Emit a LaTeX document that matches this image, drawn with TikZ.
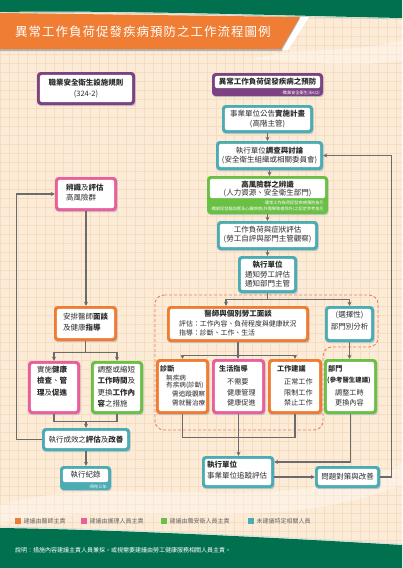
\documentclass[tikz,border=0pt]{standalone}
\usepackage{fontspec}
\setmainfont{Noto Sans CJK TC}
\newfontfamily\titlefont{Noto Sans CJK TC}[LetterSpace=8]
\usetikzlibrary{arrows.meta,fit,calc}
\definecolor{dkgreen}{HTML}{00704F}
\definecolor{bannerorange}{HTML}{EF7D33}
\definecolor{cpurple}{HTML}{7D4282}
\definecolor{cteal}{HTML}{4BACB3}
\definecolor{cgreen}{HTML}{6ABF45}
\definecolor{cpink}{HTML}{E85F9C}
\definecolor{corange}{HTML}{EE7D33}
\definecolor{bgpeach}{HTML}{FCEBD6}
\definecolor{gridc}{HTML}{F5DDC2}
\definecolor{linegray}{HTML}{6B6B6B}
\definecolor{dashc}{HTML}{E5806A}
\definecolor{txt}{HTML}{2B2B2B}
\newcommand\fs{\fontsize{7.5}{8}\selectfont}
\newcommand\fsm{\fontsize{6.9}{8}\selectfont}
\newcommand\fsd{\fontsize{6.6}{8}\selectfont}
\newcommand\fsl{\fontsize{7.1}{8}\selectfont}
\newcommand\fsx{\fontsize{4.2}{5}\selectfont}
\newcommand\bx[7][0]{%
  \fill[black!22, rounded corners=3.5pt] (#4+0.7,#5+1.2) rectangle (#6+0.7,#7+1.2);
  \fill[#3, rounded corners=3.5pt] (#4,#5) rectangle (#6,#7);
  \fill[white, rounded corners=2.5pt] (#4+2.8,#5+2.8) rectangle (#6-2.8,#7-2.8-#1);
  \node[fit={(#4,#5)(#6,#7)}, inner sep=0pt] (#2) {};
}
\begin{document}
\begin{tikzpicture}[x=1pt,y=-1pt,
  t/.style={inner sep=0pt, text=txt, font=\fs},
  tb/.style={inner sep=0pt, text=txt, font=\fs\bfseries},
  tm/.style={inner sep=0pt, text=txt, font=\fsm},
  ts/.style={inner sep=0pt, text=txt, font=\fsd},
  tl/.style={inner sep=0pt, text=txt, font=\fsl},
  tlb/.style={inner sep=0pt, text=txt, font=\fsl\bfseries},
  tsw/.style={inner sep=0pt, text=white, font=\fsx},
  leg/.style={inner sep=0pt, text=black!60, font=\fontsize{6}{7}\selectfont, anchor=west},
  conn/.style={draw=linegray, line width=1.1pt},
  arr/.style={draw=linegray, line width=1.1pt, -{Stealth[length=4pt,width=4pt]}},
]
\useasboundingbox (0,0) rectangle (402,568);
% background
\fill[bgpeach] (0,0) rectangle (402,568);
\foreach \i in {0,9,...,402} \draw[gridc, line width=0.3pt] (\i,0) -- (\i,568);
\foreach \j in {0,9,...,568} \draw[gridc, line width=0.3pt] (0,\j) -- (402,\j);
\fill[white, opacity=0.35] (0,505) .. controls (120,470) and (260,520) .. (402,465) -- (402,485) .. controls (260,540) and (120,495) .. (0,525) -- cycle;
\fill[white, opacity=0.3] (250,60) .. controls (300,45) and (350,55) .. (402,40) -- (402,60) .. controls (350,70) and (300,60) .. (250,60) -- cycle;
% top band
\fill[dkgreen] (0,0) -- (402,0) -- (402,18) .. controls (300,16) and (120,10) .. (0,12) -- cycle;
\draw[white!70!dkgreen, line width=0.8pt] (0,13) .. controls (120,11) and (300,17) .. (402,19);
\fill[black!30] (0,15) -- (301,19) -- (282,51) -- (0,51) -- cycle;
\fill[bannerorange] (0,13) -- (300,17) -- (281,49) -- (0,49) -- cycle;
\fill[white] (301,17) -- (309,17) -- (288,50) -- (282,50) -- cycle;
\node[anchor=west, inner sep=0pt, text=white, font=\titlefont\fontsize{12.5}{14}\selectfont] (title) at (15,32) {異常工作負荷促發疾病預防之工作流程圖例};
% bottom band
\fill[dkgreen] (0,528) .. controls (130,530) and (280,538) .. (402,545) -- (402,568) -- (0,568) -- cycle;
\draw[white!80!dkgreen, line width=0.9pt] (0,527) .. controls (130,529) and (280,537) .. (402,544);
\node[anchor=west, inner sep=0pt, text=white, font=\fontsize{6}{7}\selectfont] (foot) at (15,550) {說明：措施內容建議主責人員兼採，或視需要建議由勞工健康服務相關人員主責。};
% legend
\fill[corange] (15,518) rectangle (21,524); \node[leg] (lg1) at (23.5,521) {建議由醫師主責};
\fill[cpink] (81,518) rectangle (87,524); \node[leg] (lg2) at (89.5,521) {建議由護理人員主責};
\fill[cgreen] (161,518) rectangle (167,524); \node[leg] (lg3) at (169.5,521) {建議由職安衛人員主責};
\fill[cteal] (248,518) rectangle (254,524); \node[leg] (lg4) at (256.5,521) {未建議特定相關人員};
% dashed region
\draw[dashc, line width=0.9pt, dash pattern=on 3pt off 2pt, rounded corners=9pt] (155,295) -- (378,295) -- (378,347) -- (323,347) -- (323,430) -- (155,430) -- cycle;
% boxes
\bx{pl}{cpurple}{37}{72}{135}{105}
\node[tb] (pl1) at (86,83) {職業安全衛生設施規則};
\node[t] (pl2) at (86,94) {(324-2)};
\bx[5]{pr}{cpurple}{212}{73}{323}{96}
\node[tb] (pr1) at (267.5,82) {異常工作負荷促發疾病之預防};
\node[tsw, anchor=east] (pr2) at (320,92.8) {-職業安全衛生法6(2)};
\bx{b3}{cteal}{222}{105}{313}{133}
\node[t] (b3a) at (267.5,114) {事業單位公告\textbf{實施計畫}};
\node[t] (b3b) at (267.5,124) {(高階主管)};
\bx{b4}{cteal}{216}{141}{323}{170}
\node[t] (b4a) at (269.5,150.5) {執行單位\textbf{調查與討論}};
\node[t] (b4b) at (269.5,160.5) {(安全衛生組織或相關委員會)};
\bx[13]{b5}{cgreen}{207}{176}{328}{214}
\node[tb] (b5a) at (267.5,184.5) {高風險群之辨識};
\node[t] (b5b) at (267.5,193.5) {(人力資源、安全衛生部門)};
\node[tsw, anchor=east] (b5c) at (324,203) {-異常工作負荷促發疾病預防指引};
\node[tsw, anchor=east] (b5d) at (324,209.5) {-職業促發腦血管及心臟疾病(外傷導致者除外)之認定參考指引};
\bx{b6}{cteal}{217}{221}{318}{250}
\node[t] (b6a) at (267.5,230) {工作負荷與症狀評估};
\node[t] (b6b) at (267.5,239.5) {(勞工自評與部門主管觀察)};
\bx{b7}{cteal}{238}{256}{297}{293}
\node[tb] (b7a) at (267.5,265) {執行單位};
\node[t] (b7b) at (267.5,274.5) {通知勞工評估};
\node[t] (b7c) at (267.5,283.5) {通知部門主管};
\bx{b8}{corange}{167}{306}{309}{342}
\node[tb] (b8a) at (238,314) {醫師與個別勞工面談};
\node[tm, anchor=west] (b8b) at (179,323.5) {評估：工作內容、負荷程度與健康狀況};
\node[tm, anchor=west] (b8c) at (179,332.5) {指導：診斷、工作、生活};
\bx{b9}{cteal}{325}{306}{374}{342}
\node[t] (b9a) at (349.5,315.5) {(選擇性)};
\node[t] (b9b) at (349.5,327) {部門別分析};
\bx{b10}{corange}{156}{359}{209}{414}
\node[tlb, anchor=west] (b10a) at (160,369) {診斷};
\node[ts, anchor=west] (b10b) at (166,377.5) {無疾病};
\node[ts, anchor=west] (b10c) at (166,385.5) {有疾病(診斷)};
\node[ts, anchor=west] (b10d) at (172,394) {需追蹤觀察};
\node[ts, anchor=west] (b10e) at (172,403) {需就醫治療};
\bx{b11}{cpink}{212}{359}{265}{414}
\node[tlb, anchor=west] (b11a) at (219,369) {生活指導};
\node[tl, anchor=west] (b11b) at (227,382) {不需要};
\node[tl, anchor=west] (b11c) at (227,392.5) {健康管理};
\node[tl, anchor=west] (b11d) at (227,403) {健康促進};
\bx{b12}{corange}{268}{359}{322}{414}
\node[tlb, anchor=west] (b12a) at (277,369) {工作建議};
\node[tl, anchor=west] (b12b) at (284,382) {正常工作};
\node[tl, anchor=west] (b12c) at (284,392.5) {限制工作};
\node[tl, anchor=west] (b12d) at (284,403) {禁止工作};
\bx{b13}{cgreen}{324}{359}{377}{414}
\node[tlb, anchor=west] (b13a) at (328,369) {部門};
\node[inner sep=0pt, text=txt, font=\fontsize{6.4}{7}\selectfont\bfseries, anchor=west] (b13b) at (327,380) {(參考醫生建議)};
\node[tl, anchor=west] (b13c) at (335,392.5) {調整工時};
\node[tl, anchor=west] (b13d) at (335,403) {更換內容};
\bx{b14}{cpink}{55}{177}{117}{211}
\node[t, anchor=west] (b14a) at (66,187.5) {\textbf{辨識}及\textbf{評估}};
\node[t, anchor=west] (b14b) at (66,198) {高風險群};
\bx{b15}{corange}{54}{306}{117}{341}
\node[t, anchor=west] (b15a) at (63,317) {安排醫師\textbf{面談}};
\node[t, anchor=west] (b15b) at (63,328) {及健康\textbf{指導}};
\bx{b16}{cpink}{28}{361}{80}{414}
\node[t, anchor=west] (b16a) at (37,369.5) {實施\textbf{健康}};
\node[t, anchor=west] (b16b) at (37,381) {\textbf{檢查}、\textbf{管}};
\node[t, anchor=west] (b16c) at (37,392.5) {\textbf{理}及\textbf{促進}};
\bx{b17}{cgreen}{91}{361}{143}{414}
\node[t, anchor=west] (b17a) at (97.5,369.5) {調整或縮短};
\node[t, anchor=west] (b17b) at (97.5,381) {\textbf{工作時間}及};
\node[t, anchor=west] (b17c) at (97.5,392.5) {更換\textbf{工作內}};
\node[t, anchor=west] (b17d) at (97.5,403.5) {\textbf{容}之措施};
\bx{b18}{cteal}{42}{428}{130}{451}
\node[t] (b18a) at (86,439.5) {執行成效之\textbf{評估}及\textbf{改善}};
\bx[5]{b19}{cteal}{60}{466}{111}{490}
\node[t] (b19a) at (85.5,475) {執行紀錄};
\node[tsw, anchor=east] (b19b) at (107,486.5) {-保存三年};
\bx{b20}{cteal}{202}{456}{274}{488}
\node[tb, anchor=west] (b20a) at (207,465) {執行單位};
\node[t, anchor=west] (b20b) at (207,476) {事業單位追蹤評估};
\bx{b21}{cteal}{315}{466}{380}{488}
\node[t] (b21a) at (347.5,477) {問題對策與改善};
% connectors
\draw[arr] (b3.south) -- (b3.south |- b4.north);
\draw[arr] (b4.south) -- (b4.south |- b5.north);
\draw[arr] (b5.south) -- (b5.south |- b6.north);
\draw[arr] (b6.south) -- (b6.south |- b7.north);
\coordinate (s7) at ($(b7.south)+(0,6)$);
\draw[conn] (b7.south) -- (s7);
\draw[arr] (s7) -| ([xshift=-12pt]b8.north);
\draw[arr] (s7) -| (b9.north);
\coordinate (s8) at ($(b8.south)+(0,13)$);
\draw[conn] (b8.south) -- (s8);
\draw[arr] (s8) -| (b10.north);
\draw[arr] (s8) -| (b12.north);
\draw[arr] (s8) -- (s8 |- b11.north);
\draw[arr] (b9.south) -- (b9.south |- b13.north);
\coordinate (j1) at ($(b10.south)+(0,23)$);
\draw[conn] (b10.south) -- (j1) -| (b12.south);
\draw[arr] (b11.south) -- (b11.south |- b20.north);
\draw[arr] (b13.south) |- ([yshift=10pt]b20.east);
\draw[arr] (b21.west -| b20.east) -- (b21.west);
\coordinate (rl) at ($(b21.east)+(11,0)$);
\draw[arr] (b21.east) -- (rl) |- (b4.east);
\coordinate (ll) at ($(b18.west)+(-25,0)$);
\draw[arr] (b18.west) -- (ll) |- (b14.west);
\draw[arr] (b14.south) -- (b14.south |- b15.north);
\coordinate (s15) at ($(b15.south)+(0,11)$);
\draw[conn] (b15.south) -- (s15);
\draw[arr] (s15) -| (b16.north);
\draw[arr] (s15) -| (b17.north);
\coordinate (j2) at ($(b16.south)+(0,7)$);
\draw[conn] (b16.south) -- (j2) -| (b17.south);
\draw[arr] (j2 -| b18.north) -- (b18.north);
\draw[arr] (b18.south) -- (b18.south |- b19.north);
\end{tikzpicture}
\end{document}
